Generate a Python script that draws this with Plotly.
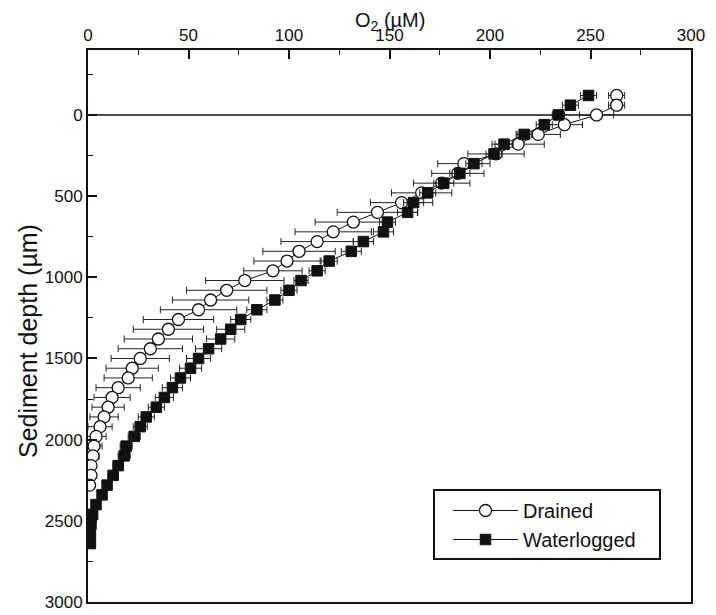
import plotly.graph_objects as go

# Depth (µm) of each measurement
depth_drained = [-120, -60, 0, 60, 120, 180, 240, 300, 360, 420, 480, 540, 600, 660,
                 720, 780, 840, 900, 960, 1020, 1080, 1140, 1200, 1260, 1320, 1380,
                 1440, 1500, 1560, 1620, 1680, 1740, 1800, 1860, 1920, 1980, 2040,
                 2100, 2160, 2220, 2280]
o2_drained = [263, 263, 253, 237, 224, 214, 203, 187, 184, 176, 166, 156, 144, 132,
              122, 114, 105, 99, 92, 78, 69, 61, 55, 45, 40, 35, 31, 26, 22, 20,
              15, 12, 10, 8, 6, 4, 3, 2.5, 1.5, 1.5, 0.8]
err_drained = [4, 4, 8.5, 9, 11, 13, 14, 13, 13, 14, 15, 15.5, 20, 19, 19, 18, 18,
               16.5, 14.5, 19.5, 20, 19, 19, 17.5, 17.5, 17, 16, 14.5, 13, 12, 11,
               9, 8, 7, 6, 5, 4, 3, 2, 2, 1]

depth_water = [-120, -60, 0, 60, 120, 180, 240, 300, 360, 420, 480, 540, 600, 660,
               720, 780, 840, 900, 960, 1020, 1080, 1140, 1200, 1260, 1320, 1380,
               1440, 1500, 1560, 1620, 1680, 1740, 1800, 1860, 1920, 1980, 2040,
               2100, 2160, 2220, 2280, 2340, 2400, 2460, 2520, 2580, 2640]
o2_water = [249, 240, 234, 227, 217, 207, 202, 192, 185, 177, 169, 162, 159, 149,
            147, 137, 131, 120, 114, 106, 100, 93, 84, 76, 71, 66, 60, 55, 51, 46,
            42, 38, 34, 29, 26, 23, 19, 18, 15, 12.5, 9.5, 7, 4, 2.3, 1.5, 1.2, 1.2]
err_water = [4, 4, 3, 4, 3.5, 4.5, 4, 4, 5, 5, 4, 5, 5, 4, 5, 5, 5, 4, 4, 3.5, 4,
             4, 5, 5, 7, 7, 6.5, 6, 5.5, 5, 5, 4.5, 4, 4, 3.5, 3, 3, 3, 2.5, 2.5,
             2, 2, 1.5, 1, 1, 1, 1]

x_ticks = [0, 50, 100, 150, 200, 250, 300]
y_ticks = [0, 500, 1000, 1500, 2000, 2500, 3000]

x_title = "O<sub>2</sub> (µM)"
y_title = "Sediment depth (µm)"

FONT = "Liberation Sans, Arial, sans-serif"
INK = "#111111"

ML, MR, MT, MB = 80, 33, 42, 21
W, H = 716, 615
PW, PH = W - ML - MR, H - MT - MB

# legend frame in page pixels
LX0, LX1, LY0, LY1 = 426, 652, 482, 551

fig = go.Figure()

fig.add_trace(go.Scatter(
    x=o2_drained, y=depth_drained, mode="lines+markers", name="Drained",
    line=dict(color=INK, width=1),
    marker=dict(symbol="circle", size=12, color="white",
                line=dict(color=INK, width=1.3)),
    error_x=dict(type="data", array=err_drained, visible=True,
                 color="#222222", thickness=1, width=3.5),
))

fig.add_trace(go.Scatter(
    x=o2_water, y=depth_water, mode="lines+markers", name="Waterlogged",
    line=dict(color=INK, width=1),
    marker=dict(symbol="square", size=10.5, color=INK,
                line=dict(color=INK, width=1)),
    error_x=dict(type="data", array=err_water, visible=True,
                 color="#222222", thickness=1, width=3.5),
))

# sediment surface line at depth 0
fig.add_shape(type="line", xref="paper", x0=0, x1=1, yref="y", y0=0, y1=0,
              line=dict(color=INK, width=1.5), layer="below")

# legend frame
fig.add_shape(type="rect", xref="paper", yref="paper",
              x0=(LX0 - ML) / PW, x1=(LX1 - ML) / PW,
              y0=(H - MB - LY1) / PH, y1=(H - MB - LY0) / PH,
              line=dict(color=INK, width=2), fillcolor="white", layer="above")

# axis titles as annotations for exact placement
fig.add_annotation(text=x_title, xref="paper", yref="paper",
                   x=0.5, y=(H - MB) / PH, xanchor="center", yanchor="top",
                   borderpad=0, showarrow=False,
                   font=dict(size=20, family=FONT, color=INK))
fig.add_annotation(text=y_title, xref="paper", yref="paper",
                   x=(20 - ML) / PW, y=(H - MB - 333) / PH,
                   xanchor="center", yanchor="middle", textangle=-90,
                   showarrow=False, font=dict(size=25, family=FONT, color=INK))

fig.update_layout(
    width=W, height=H,
    margin=dict(l=ML, r=MR, t=MT, b=MB),
    paper_bgcolor="white", plot_bgcolor="white",
    font=dict(family=FONT, color=INK, size=17),
    showlegend=True,
    legend=dict(x=(LX0 + 14 - ML) / PW, y=(H - MB - (LY0 + 1)) / PH,
                xanchor="left", yanchor="top",
                bgcolor="rgba(0,0,0,0)", borderwidth=0, itemwidth=65,
                font=dict(size=20, family=FONT, color=INK), tracegroupgap=0),
    xaxis=dict(
        side="top", range=[0, 300], tickvals=x_ticks,
        ticktext=[str(v) for v in x_ticks],
        ticks="inside", ticklen=9, tickwidth=1.5, tickcolor=INK,
        minor=dict(dtick=25, tick0=0, ticks="inside", ticklen=5,
                   tickwidth=1.2, tickcolor=INK),
        showline=True, linecolor=INK, linewidth=2, mirror=True,
        showgrid=False, zeroline=False, automargin=False,
        ticklabeloverflow="allow",
        tickfont=dict(size=17, family=FONT),
    ),
    yaxis=dict(
        range=[3000, -400], tickvals=y_ticks,
        ticktext=[str(v) for v in y_ticks],
        ticks="inside", ticklen=9, tickwidth=1.5, tickcolor=INK,
        minor=dict(dtick=250, tick0=0, ticks="inside", ticklen=5,
                   tickwidth=1.2, tickcolor=INK),
        showline=True, linecolor=INK, linewidth=2, mirror=True,
        showgrid=False, zeroline=False, automargin=False,
        ticklabeloverflow="allow",
        tickfont=dict(size=17, family=FONT),
    ),
)

fig.write_html("out.html")
